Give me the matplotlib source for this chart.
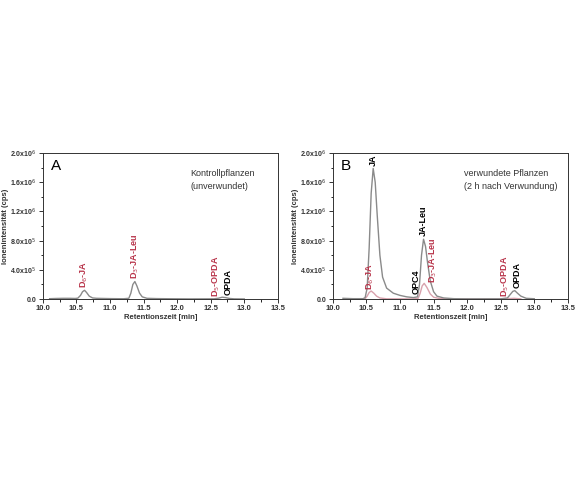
import matplotlib
matplotlib.use("Agg")
import matplotlib.pyplot as plt
from matplotlib.ticker import MultipleLocator, FixedLocator, FixedFormatter

plt.rcParams['font.family'] = ['Liberation Sans', 'DejaVu Sans']

# Panel A (control plants) trace, intensity in units of 1e4 cps
a_x = [10.10, 10.2, 10.3, 10.4, 10.48, 10.52, 10.56, 10.59, 10.62, 10.65, 10.69, 10.74, 10.8, 10.9,
       11.0, 11.1, 11.2, 11.28, 11.31, 11.34, 11.37, 11.40, 11.44, 11.48, 11.55, 11.7, 11.9, 12.2,
       12.55, 12.62, 12.67, 12.72, 12.78, 12.85, 13.0]
a_y = [0.5, 0.8, 1.0, 1.0, 0.8, 1.2, 5, 10, 12, 9, 4, 1.5, 1, 0.8, 0.6, 0.5, 0.4, 1, 8, 20, 24, 18,
       8, 3, 1, 0.6, 0.4, 0.2, 0.3, 1.2, 2.5, 2.0, 0.8, 0.3, 0.1]

# Panel B (wounded plants) analyte trace
b1_x = [10.15, 10.3, 10.45, 10.48, 10.51, 10.54, 10.57, 10.60, 10.63, 10.66, 10.70, 10.74, 10.8,
        10.9, 11.0, 11.1, 11.2, 11.26, 11.29, 11.32, 11.35, 11.38, 11.41, 11.45, 11.5, 11.55, 11.65,
        11.8, 12.0, 12.5, 12.6, 12.64, 12.68, 12.71, 12.75, 12.8, 12.88, 13.0]
b1_y = [1, 0.5, 0.5, 2, 15, 70, 145, 179, 160, 115, 60, 30, 15, 8, 5, 3, 2, 3, 20, 60, 82, 72, 50,
        25, 10, 4, 1.5, 0.5, 0.3, 0.3, 1.5, 6, 10.5, 11.5, 8, 4, 1, 0.4]

# Panel B internal standard trace
b2_x = [10.4, 10.48, 10.51, 10.54, 10.57, 10.61, 10.65, 10.7, 10.8, 11.2, 11.27, 11.30, 11.33,
        11.36, 11.40, 11.45, 11.5, 11.6, 11.8, 12.5, 12.6, 12.7, 12.8]
b2_y = [0, 0.5, 4, 9, 11, 8, 4, 1.5, 0.3, 0.2, 1, 8, 18, 21.5, 16, 7, 2.5, 0.5, 0.1, 0.1, 0.5, 1, 0.2]

# Peak labels: (text, x, y-bottom in 1e4, is_standard)
a_labels = [("D$_6$-JA", 10.62, 15, True), ("D$_3$-JA-Leu", 11.37, 28, True),
            ("D$_5$-OPDA", 12.59, 3, True), ("OPDA", 12.76, 5, False)]
b_labels = [("JA", 10.60, 182, False), ("D$_6$-JA", 10.56, 13, True), ("OPC4", 11.24, 7, False),
            ("JA-Leu", 11.35, 86, False), ("D$_3$-JA-Leu", 11.50, 22, True),
            ("D$_5$-OPDA", 12.57, 3, True), ("OPDA", 12.75, 15, False)]

y_ticks = [0, 40, 80, 120, 160, 200]
y_ticklabels = ["0.0", "4.0x10$^5$", "8.0x10$^5$", "1.2x10$^6$", "1.6x10$^6$", "2.0x10$^6$"]
x_ticks = [10.0, 10.5, 11.0, 11.5, 12.0, 12.5, 13.0, 13.5]

RED = "#b8344a"
GREY = "#8a8a8a"
PINK = "#d8a2ad"

fig = plt.figure(figsize=(5.8, 4.8), dpi=100)
axA = fig.add_axes([0.074, 0.377, 0.405, 0.304])
axB = fig.add_axes([0.574, 0.377, 0.405, 0.304])

def style(ax):
    ax.set_xlim(10.0, 13.5)
    ax.set_ylim(0, 200)
    ax.yaxis.set_major_locator(FixedLocator(y_ticks))
    ax.yaxis.set_major_formatter(FixedFormatter(y_ticklabels))
    ax.yaxis.set_minor_locator(MultipleLocator(20))
    ax.xaxis.set_major_locator(FixedLocator(x_ticks))
    ax.xaxis.set_minor_locator(MultipleLocator(0.25))
    ax.set_xticklabels([f"{v:.1f}" for v in x_ticks])
    ax.tick_params(axis='y', which='major', labelsize=5)
    ax.tick_params(axis='x', which='major', labelsize=5.5)
    ax.tick_params(which='major', direction='out', length=3, width=0.7, pad=1.5,
                   colors='#333333')
    ax.tick_params(which='minor', direction='out', length=1.8, width=0.6)
    for s in ax.spines.values():
        s.set_linewidth(0.7)
        s.set_color('#333333')
    for lab in ax.get_xticklabels() + ax.get_yticklabels():
        lab.set_fontweight('bold')
    ax.set_xlabel("Retentionszeit [min]", fontsize=5.5, fontweight='bold', labelpad=1.5, color='#333333')
    ax.set_ylabel("Ionenintensität (cps)", fontsize=5.5, fontweight='bold', labelpad=1, color='#333333')

def labels(ax, items):
    for txt, x, y, std in items:
        ax.text(x, y, txt, rotation=90, ha='center', va='bottom', fontsize=6.5, fontweight='bold',
                color=RED if std else 'black')

axA.plot(a_x, a_y, color=GREY, lw=1.0)
style(axA)
labels(axA, a_labels)
axA.text(10.12, 192, "A", fontsize=11, va='top', ha='left')
axA.text(12.2, 178, "Kontrollpflanzen\n(unverwundet)", fontsize=6.5, va='top', ha='left',
         linespacing=1.5, color='#333333')

axB.plot(b2_x, b2_y, color=PINK, lw=1.0)
axB.plot(b1_x, b1_y, color=GREY, lw=1.0)
style(axB)
labels(axB, b_labels)
axB.text(10.12, 192, "B", fontsize=11, va='top', ha='left')
axB.text(11.95, 178, "verwundete Pflanzen\n(2 h nach Verwundung)", fontsize=6.5, va='top', ha='left',
         linespacing=1.5, color='#333333')

fig.savefig("out.png", dpi=100, facecolor='white')
